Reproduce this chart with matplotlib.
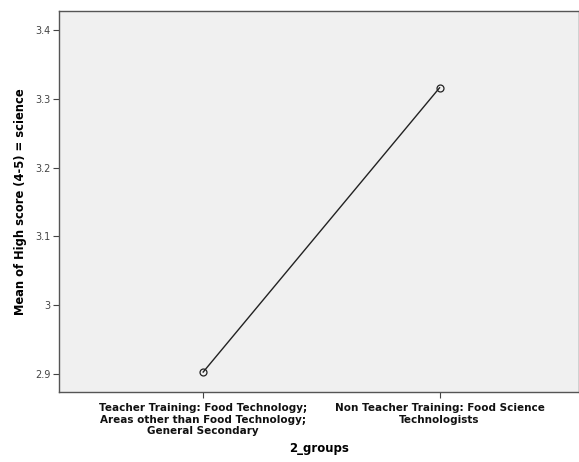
import matplotlib
matplotlib.use('Agg')
import matplotlib.pyplot as plt

groups = ['Teacher Training: Food Technology;\nAreas other than Food Technology;\nGeneral Secondary',
          'Non Teacher Training: Food Science\nTechnologists']
means = [2.903, 3.316]
yticks = [2.9, 3.0, 3.1, 3.2, 3.3, 3.4]
ytick_labels = ['2.9', '3', '3.1', '3.2', '3.3', '3.4']

fig = plt.figure(figsize=(5.79, 4.62), dpi=100)
ax = fig.add_axes([59 / 579, 70 / 462, 520 / 579, 381 / 462])
ax.set_facecolor('#f0f0f0')

x = list(range(len(groups)))
ax.plot(x, means, color='#222222', linewidth=1.0, marker='o', markersize=5,
        markerfacecolor='none', markeredgecolor='#222222', markeredgewidth=0.9)

ax.set_xlim(-0.61, 1.59)
ax.set_ylim(2.874, 3.4276)
ax.set_xticks(x)
ax.set_xticklabels(groups, fontsize=7.5, fontweight='bold', color='#111111', linespacing=1.2)
ax.set_yticks(yticks)
ax.set_yticklabels(ytick_labels, fontsize=7, color='#444444')
ax.tick_params(axis='both', length=4, width=0.8, color='#444444', pad=2)
ax.tick_params(axis='x', pad=4)

for side in ['left', 'bottom', 'top', 'right']:
    ax.spines[side].set_color('#555555')
    ax.spines[side].set_linewidth(1.0)

ax.set_xlabel('2_groups', fontsize=8.5, fontweight='bold', labelpad=4)
ax.set_ylabel('Mean of High score (4-5) = science', fontsize=8.3, fontweight='bold', labelpad=6)

fig.savefig('out.png', dpi=100)
